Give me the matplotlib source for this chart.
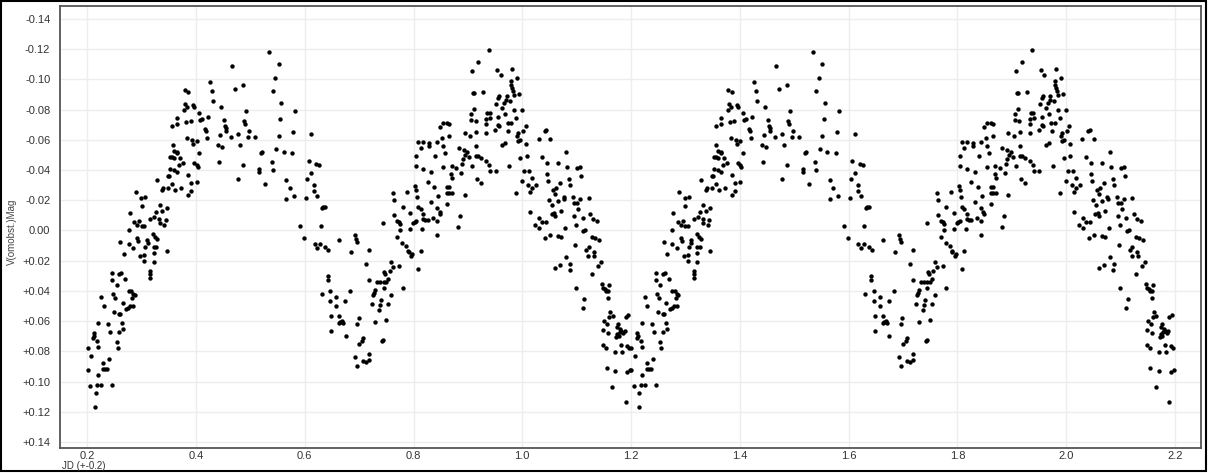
import matplotlib
matplotlib.use("Agg")
import matplotlib.pyplot as plt
from matplotlib.ticker import FuncFormatter
from matplotlib.patches import Rectangle
import numpy as np

################################################################################
# One full cycle (JD offset, delta mag); plotted twice     #
################################################################################
cycle_x = [
    0.2006, 0.2006, 0.2074, 0.2055, 0.2153, 0.2147, 0.2180, 0.2250, 0.2196, 0.2290,
    0.2330, 0.2360, 0.2290, 0.2410, 0.2450, 0.2196, 0.2117, 0.2130, 0.2105, 0.2180,
    0.2200, 0.2380, 0.2417, 0.2637, 0.2655, 0.2580, 0.2540, 0.2560, 0.2250, 0.2300,
    0.2480, 0.2510, 0.2500, 0.2580, 0.2610, 0.2650, 0.2710, 0.2750, 0.2790, 0.2760,
    0.2800, 0.2840, 0.2870, 0.2830, 0.2850, 0.2450, 0.2630, 0.2580, 0.2460, 0.2540,
    0.2700, 0.2610, 0.2670, 0.2760, 0.2850, 0.2780, 0.2860, 0.2920, 0.2960, 0.3000,
    0.3040, 0.2760, 0.2910, 0.2940, 0.2980, 0.3050, 0.3040, 0.3070, 0.3100, 0.3110,
    0.3160, 0.3230, 0.3320, 0.3270, 0.3370, 0.3330, 0.3410, 0.3440, 0.3210, 0.3250,
    0.3280, 0.3220, 0.3220, 0.3220, 0.3150, 0.3160, 0.3160, 0.3260, 0.3460, 0.3330,
    0.3460, 0.3280, 0.2890, 0.2990, 0.3070, 0.3000, 0.3370, 0.3400, 0.3480, 0.3490,
    0.3510,
    0.535, 0.466, 0.426, 0.429, 0.431, 0.379, 0.386, 0.472, 0.486, 0.446,
    0.380, 0.384, 0.378, 0.395, 0.396, 0.492, 0.406, 0.407, 0.412, 0.422,
    0.366, 0.366, 0.356, 0.382, 0.390, 0.451, 0.453, 0.456, 0.456, 0.488,
    0.491, 0.417, 0.418, 0.497, 0.444, 0.464, 0.477, 0.496, 0.509, 0.421,
    0.383, 0.393, 0.401, 0.395, 0.441, 0.448, 0.481, 0.357, 0.406, 0.521,
    0.519, 0.359, 0.360, 0.366, 0.365, 0.371, 0.352, 0.356, 0.396, 0.401,
    0.403, 0.376, 0.369, 0.442, 0.486, 0.516, 0.516, 0.352, 0.360, 0.366,
    0.385, 0.401, 0.391, 0.477, 0.527, 0.356, 0.361, 0.372, 0.391, 0.386,
    0.552, 0.546, 0.541, 0.557, 0.582, 0.554, 0.579, 0.552, 0.612, 0.547,
    0.561, 0.576, 0.539, 0.541, 0.607, 0.621, 0.626, 0.612, 0.566, 0.604,
    0.617, 0.572, 0.617, 0.580, 0.566, 0.602, 0.623, 0.632, 0.634, 0.637,
    0.591, 0.629, 0.599, 0.618, 0.622, 0.628, 0.637, 0.643, 0.663, 0.685,
    0.693, 0.695, 0.697, 0.642, 0.642, 0.631, 0.647, 0.683, 0.657, 0.674,
    0.647, 0.658, 0.648, 0.663, 0.665, 0.669, 0.670, 0.663, 0.699, 0.697,
    0.649, 0.675, 0.700, 0.693, 0.696,
    0.707, 0.713, 0.718, 0.719, 0.706, 0.708, 0.719, 0.713, 0.718, 0.725,
    0.728, 0.730, 0.724, 0.730, 0.733, 0.739, 0.745, 0.736, 0.738, 0.740,
    0.742, 0.744, 0.749, 0.753, 0.745, 0.749, 0.754, 0.746, 0.747, 0.756,
    0.758, 0.758, 0.763, 0.773, 0.780, 0.744, 0.762, 0.765, 0.765, 0.770,
    0.774, 0.776, 0.775, 0.770, 0.780, 0.788, 0.779, 0.787, 0.790, 0.791,
    0.796, 0.798, 0.794, 0.794, 0.802, 0.799, 0.805, 0.803, 0.804, 0.807,
    0.809, 0.813, 0.817, 0.818, 0.822, 0.826, 0.815, 0.813, 0.809, 0.805,
    0.817, 0.832, 0.826, 0.838, 0.845, 0.832, 0.843, 0.848, 0.843, 0.836,
    0.844, 0.805, 0.809, 0.813, 0.817, 0.829, 0.829, 0.839, 0.844, 0.853,
    0.855, 0.858, 0.849, 0.855, 0.861, 0.855, 0.862, 0.861, 0.862, 0.849,
    0.866,
    0.938, 0.918, 0.907, 0.953, 0.960, 0.982, 0.990, 0.979, 0.980, 0.982,
    0.983, 0.928, 0.910, 0.912, 0.958, 0.956, 0.971, 0.970, 0.977, 0.994,
    0.985, 0.952, 0.966, 0.912, 0.906, 0.906, 0.935, 0.940, 0.934, 0.963,
    0.968, 0.955, 0.985, 1.000, 0.914, 0.941, 0.955, 0.958, 0.973, 0.979,
    0.988, 0.933, 1.006, 1.002, 0.950, 0.865, 0.894, 0.904, 0.915, 0.934,
    0.974, 0.993, 0.990, 0.996, 0.993, 1.007, 0.963, 0.968, 1.030, 0.915,
    0.883, 0.892, 0.899, 0.895, 0.902, 0.915, 0.918, 0.925, 0.934, 0.939,
    0.891, 0.889, 0.996, 1.008, 0.870, 0.878, 0.907, 0.941, 0.951, 0.975,
    1.004, 1.013, 0.869, 0.871, 0.888, 0.917, 0.925, 1.000, 1.010, 1.018,
    1.025, 1.018, 1.015, 0.866, 0.871, 0.866, 0.894, 0.988, 1.014, 1.023,
    1.031, 1.031, 0.882, 0.885,
    1.043, 1.041, 1.051, 1.081, 1.036, 1.045, 1.066, 1.083, 1.100, 1.106,
    1.108, 1.045, 1.048, 1.069, 1.086, 1.088, 1.057, 1.060, 1.062, 1.076,
    1.077, 1.093, 1.096, 1.100, 1.107, 1.122, 1.050, 1.055, 1.066, 1.071,
    1.054, 1.058, 1.061, 1.102, 1.096, 1.111, 1.125, 1.130, 1.137, 1.037,
    1.043, 1.079, 1.099, 1.115, 1.112, 1.128, 1.134, 1.141, 1.051, 1.042,
    1.066, 1.071, 1.097, 1.122, 1.117, 1.131, 1.121, 1.132, 1.145, 1.081,
    1.088, 1.070, 1.061, 1.087, 1.139, 1.128, 1.099, 1.147, 1.149, 1.152,
    1.157, 1.154, 1.160, 1.158, 1.114, 1.111, 1.161, 1.159, 1.166, 1.194,
    1.190, 1.150, 1.156, 1.176, 1.175, 1.180, 1.182, 1.179, 1.149, 1.157,
    1.174, 1.172, 1.177, 1.186, 1.188, 1.149, 1.154, 1.171, 1.183, 1.193,
    1.197, 1.181, 1.155, 1.170, 1.192, 1.198, 1.165, 1.190,
]
cycle_mag = [
    0.0776, 0.0922, 0.0834, 0.1030, 0.1077, 0.1166, 0.1020, 0.1020, 0.0960, 0.0920,
    0.0920, 0.0920, 0.0880, 0.0850, 0.1020, 0.0770, 0.0680, 0.0700, 0.0710, 0.0730,
    0.0610, 0.0620, 0.0670, 0.0615, 0.0650, 0.0670, 0.0740, 0.0780, 0.0440, 0.0500,
    0.0420, 0.0450, 0.0540, 0.0550, 0.0550, 0.0480, 0.0520, 0.0510, 0.0500, 0.0400,
    0.0400, 0.0420, 0.0430, 0.0450, 0.0500, 0.0280, 0.0280, 0.0290, 0.0325, 0.0360,
    0.0320, 0.0073, 0.0155, 0.0089, 0.0118, -0.0113, -0.0054, -0.0035, -0.0066, -0.0030,
    -0.0030, -0.0002, 0.0050, 0.0067, 0.0169, 0.0160, 0.0200, 0.0110, 0.0060, 0.0080,
    -0.0079, -0.0086, -0.0075, -0.0123, -0.0126, -0.0051, -0.0033, -0.0071, 0.0025, 0.0043,
    0.0055, 0.0110, 0.0150, 0.0212, 0.0267, 0.0285, 0.0312, 0.0110, 0.0134, -0.0170,
    -0.0150, -0.0334, -0.0255, -0.0216, -0.0222, -0.0164, -0.0270, -0.0280, -0.0280, -0.0363,
    -0.0360,
    -0.118, -0.1087, -0.0984, -0.092, -0.086, -0.0927, -0.0914, -0.0936, -0.096, -0.082,
    -0.0838, -0.0818, -0.0798, -0.083, -0.082, -0.0793, -0.0776, -0.0733, -0.074, -0.0753,
    -0.0744, -0.0707, -0.0693, -0.072, -0.0724, -0.0731, -0.069, -0.068, -0.066, -0.0727,
    -0.0707, -0.0673, -0.0656, -0.0658, -0.063, -0.062, -0.0636, -0.062, -0.062, -0.0615,
    -0.0615, -0.0596, -0.0592, -0.057, -0.0567, -0.055, -0.0565, -0.0566, -0.0516, -0.0522,
    -0.0513, -0.0527, -0.0482, -0.0522, -0.051, -0.0482, -0.0489, -0.0489, -0.0447, -0.0433,
    -0.0418, -0.0447, -0.0433, -0.045, -0.0436, -0.041, -0.0387, -0.0407, -0.040, -0.039,
    -0.0367, -0.0322, -0.0313, -0.0342, -0.031, -0.031, -0.0267, -0.0278, -0.026, -0.0238,
    -0.1104, -0.101, -0.0922, -0.0847, -0.0789, -0.0738, -0.0651, -0.0627, -0.064, -0.0538,
    -0.052, -0.0513, -0.0451, -0.0398, -0.0462, -0.0438, -0.0433, -0.038, -0.0336, -0.034,
    -0.0304, -0.0282, -0.026, -0.0229, -0.0207, -0.0218, -0.0229, -0.0149, -0.0153, -0.0158,
    -0.0027, -0.0027, 0.0047, 0.0087, 0.0113, 0.0091, 0.0109, 0.0131, 0.006, 0.0144,
    0.0033, 0.0058, 0.0078, 0.030, 0.0327, 0.0418, 0.0398, 0.0398, 0.044, 0.0469,
    0.0467, 0.050, 0.0569, 0.0569, 0.0607, 0.060, 0.0611, 0.0613, 0.0578, 0.0618,
    0.0664, 0.070, 0.0753, 0.0838, 0.0896,
    0.0862, 0.0873, 0.0818, 0.0856, 0.0729, 0.0711, 0.0127, 0.022, 0.0327, 0.0424,
    0.0416, 0.0396, 0.0487, 0.0607, 0.034, 0.0344, 0.0384, 0.0529, 0.0496, 0.0462,
    0.0733, 0.0724, 0.0593, 0.0487, 0.0344, 0.0344, 0.0324, 0.0273, 0.0291, 0.0269,
    0.0207, 0.0429, 0.0242, 0.0233, 0.038, -0.0049, -0.0251, -0.0202, -0.0102, -0.0062,
    -0.0053, -0.0042, -0.0004, 0.0042, -0.0153, -0.0258, 0.0084, 0.010, 0.0136, 0.0144,
    0.0171, 0.0158, -0.0116, -0.0007, -0.0056, -0.0047, -0.006, -0.0296, -0.0269, -0.0222,
    -0.0158, -0.014, -0.0109, -0.0076, -0.0071, -0.0069, -0.0007, 0.0133, 0.0256, -0.0427,
    -0.0404, -0.0384, -0.032, -0.0287, -0.023, -0.0187, -0.0149, -0.0122, -0.006, -0.008,
    0.0033, -0.0493, -0.0584, -0.0544, -0.0589, -0.0578, -0.056, -0.0493, -0.0589, -0.0609,
    -0.0558, -0.0513, -0.0687, -0.0713, -0.0709, -0.042, -0.0287, -0.0247, -0.0178, -0.0111,
    -0.0624,
    -0.1193, -0.1118, -0.1053, -0.1064, -0.1027, -0.1067, -0.1011, -0.0987, -0.0964, -0.094,
    -0.092, -0.0916, -0.0909, -0.0911, -0.0887, -0.0878, -0.0893, -0.0862, -0.086, -0.0904,
    -0.0898, -0.084, -0.0847, -0.0802, -0.0771, -0.0731, -0.078, -0.078, -0.074, -0.0809,
    -0.0771, -0.0749, -0.080, -0.080, -0.0727, -0.0742, -0.0698, -0.0689, -0.0713, -0.0713,
    -0.0742, -0.0704, -0.0693, -0.066, -0.0667, -0.0704, -0.0642, -0.0627, -0.0649, -0.0644,
    -0.0656, -0.0642, -0.0624, -0.0598, -0.0593, -0.0571, -0.0567, -0.0576, -0.0604, -0.056,
    -0.0549, -0.0533, -0.052, -0.0502, -0.0489, -0.0491, -0.0496, -0.0478, -0.046, -0.0433,
    -0.0471, -0.0442, -0.0478, -0.0496, -0.0427, -0.0416, -0.0427, -0.0393, -0.0393, -0.0424,
    -0.0391, -0.0393, -0.0371, -0.0349, -0.0382, -0.0344, -0.0311, -0.0327, -0.030, -0.0347,
    -0.030, -0.0278, -0.0256, -0.0287, -0.0249, -0.0247, -0.0238, -0.0247, -0.012, -0.0038,
    -0.0082, -0.0016, -0.0024, -0.0093,
    -0.0667, -0.066, -0.0607, -0.0522, -0.0489, -0.0444, -0.0444, -0.0418, -0.0416, -0.042,
    -0.0362, -0.0371, -0.0327, -0.0316, -0.0342, -0.030, -0.0267, -0.0244, -0.0278, -0.0222,
    -0.0207, -0.0222, -0.0184, -0.0184, -0.0211, -0.0216, -0.020, -0.0171, -0.0193, -0.0127,
    -0.0111, -0.0116, -0.0096, -0.0144, -0.0093, -0.008, -0.0109, -0.0073, -0.0064, -0.0056,
    -0.0058, -0.0016, -0.0033, -0.0004, 0.0002, 0.004, 0.0051, 0.0062, 0.0029, 0.0051,
    0.0038, 0.0042, 0.0093, 0.0111, 0.0127, 0.014, 0.0167, 0.0171, 0.0207, 0.0178,
    0.022, 0.0227, 0.0251, 0.0262, 0.0238, 0.0289, 0.0378, 0.0356, 0.0378, 0.0389,
    0.0402, 0.040, 0.0358, 0.0447, 0.0456, 0.0511, 0.0538, 0.0576, 0.0567, 0.0558,
    0.0571, 0.060, 0.0616, 0.0616, 0.0642, 0.0651, 0.0664, 0.0669, 0.066, 0.0678,
    0.0684, 0.0704, 0.070, 0.0682, 0.0667, 0.0756, 0.0776, 0.0807, 0.0807, 0.0762,
    0.0776, 0.0758, 0.0911, 0.0929, 0.0938, 0.0922, 0.1038, 0.1136,
]
cycle_shift = [0.0, 1.0]          # the cycle is repeated once
x_ticks = [0.2, 0.4, 0.6, 0.8, 1.0, 1.2, 1.4, 1.6, 1.8, 2.0, 2.2]
y_ticks = [-0.14, -0.12, -0.10, -0.08, -0.06, -0.04, -0.02, 0.0,
           0.02, 0.04, 0.06, 0.08, 0.10, 0.12, 0.14]

plt.rcParams['font.family'] = ['Liberation Sans', 'DejaVu Sans']

fig = plt.figure(figsize=(12.08, 4.73), dpi=100)
ax = fig.add_axes([60 / 1208, 1 - 448 / 473, (1201 - 60) / 1208, (448 - 6) / 473])

xs = np.array(cycle_x)
ys = np.array(cycle_mag)
for s in cycle_shift:
    ax.scatter(xs + s, ys, s=10, color='black', linewidths=0, zorder=3)

def mag_fmt(v, pos):
    if abs(v) < 1e-9:
        return "0.00"
    if v > 0:
        return "+%.2f" % v
    return "%.2f" % v

ax.set_xlim(0.15, 2.248)
ax.set_ylim(0.144, -0.1486)
ax.set_xticks(x_ticks)
ax.set_yticks(y_ticks)
ax.yaxis.set_major_formatter(FuncFormatter(mag_fmt))
ax.xaxis.set_major_formatter(FuncFormatter(lambda v, p: "%.1f" % v))
ax.tick_params(axis='both', length=0, labelsize=8, colors='#333333')
ax.tick_params(axis='y', pad=7)
ax.tick_params(axis='x', pad=2)
ax.grid(True, color='#ededed', linewidth=1.0, zorder=0)
ax.set_axisbelow(True)
for sp in ax.spines.values():
    sp.set_color('#555555')
    sp.set_linewidth(1.3)

fig.text(12 / 1208, 1 - 232 / 473, "V(omobst.)Mag", rotation=90, fontsize=7,
         color='#444444', ha='center', va='center')
fig.text(62 / 1208, 1 - 466 / 473, "JD (+-0.2)", fontsize=7, color='#333333',
         ha='left', va='center')

fig.patches.append(Rectangle((0.0008, 0.005), 0.9975, 0.993, transform=fig.transFigure,
                             fill=False, edgecolor='black', linewidth=1.5))

fig.savefig("out.png", dpi=100)
